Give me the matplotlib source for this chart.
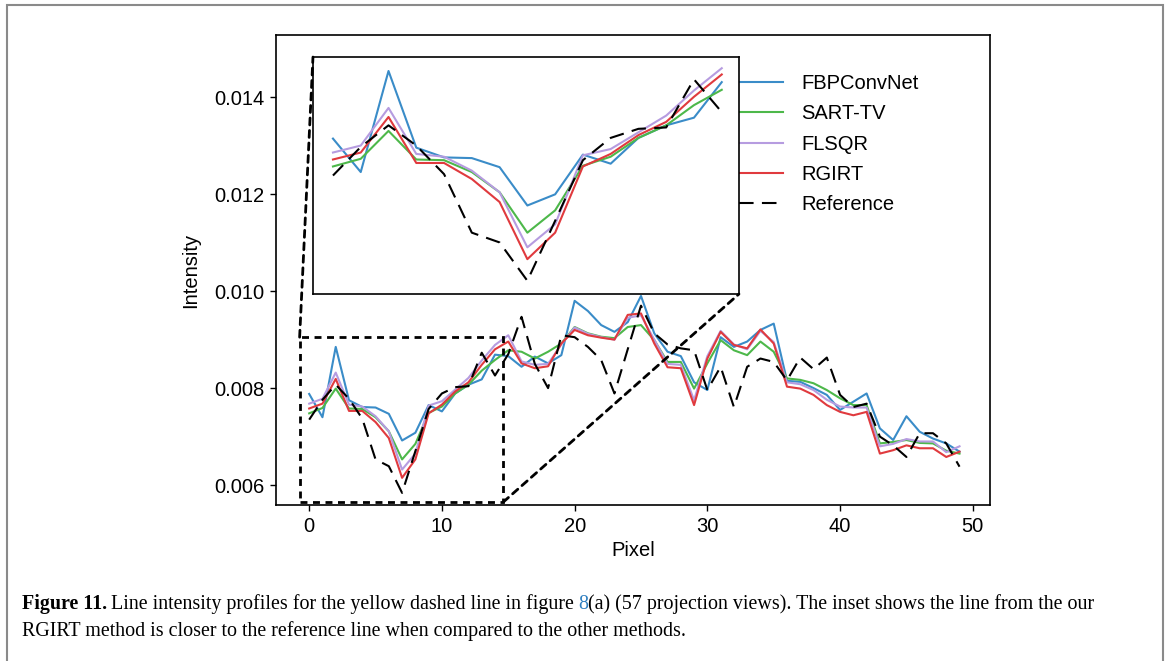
import matplotlib
matplotlib.use("Agg")
import matplotlib.pyplot as plt
from matplotlib.patches import Rectangle, ConnectionPatch
from matplotlib.transforms import IdentityTransform
import numpy as np

plt.rcParams['font.family'] = ['Liberation Sans', 'DejaVu Sans']

pixel = np.arange(50)

fbpconvnet = [0.00788, 0.00740, 0.00885, 0.00775, 0.00761, 0.00760, 0.00747, 0.00692, 0.00708, 0.00765,
              0.00752, 0.00789, 0.00807, 0.00818, 0.00869, 0.00866, 0.00844, 0.00865, 0.00851, 0.00868,
              0.00980, 0.00959, 0.00930, 0.00916, 0.00936, 0.00990, 0.00913, 0.00875, 0.00866, 0.00812,
              0.00796, 0.00905, 0.00885, 0.00896, 0.00920, 0.00933, 0.00815, 0.00813, 0.00800, 0.00786,
              0.00755, 0.00772, 0.00789, 0.00717, 0.00693, 0.00742, 0.00710, 0.00696, 0.00686, 0.00669]
sart_tv = [0.00748, 0.00759, 0.00799, 0.00758, 0.00757, 0.00740, 0.00711, 0.00653, 0.00685, 0.00749,
           0.00762, 0.00789, 0.00807, 0.00836, 0.00858, 0.00878, 0.00875, 0.00861, 0.00875, 0.00892,
           0.00926, 0.00913, 0.00906, 0.00903, 0.00926, 0.00930, 0.00899, 0.00854, 0.00854, 0.00799,
           0.00851, 0.00899, 0.00878, 0.00868, 0.00896, 0.00875, 0.00820, 0.00817, 0.00810, 0.00796,
           0.00779, 0.00765, 0.00765, 0.00686, 0.00689, 0.00693, 0.00687, 0.00686, 0.00671, 0.00665]
flsqr = [0.00768, 0.00778, 0.00832, 0.00766, 0.00762, 0.00742, 0.00711, 0.00632, 0.00665, 0.00764,
         0.00773, 0.00797, 0.00821, 0.00857, 0.00889, 0.00909, 0.00855, 0.00848, 0.00850, 0.00890,
         0.00925, 0.00912, 0.00905, 0.00900, 0.00945, 0.00950, 0.00900, 0.00850, 0.00848, 0.00775,
         0.00866, 0.00918, 0.00890, 0.00880, 0.00918, 0.00895, 0.00812, 0.00808, 0.00796, 0.00776,
         0.00762, 0.00760, 0.00760, 0.00680, 0.00685, 0.00695, 0.00690, 0.00690, 0.00668, 0.00680]
rgirt = [0.00758, 0.00768, 0.00819, 0.00753, 0.00753, 0.00730, 0.00697, 0.00615, 0.00653, 0.00748,
         0.00766, 0.00793, 0.00812, 0.00848, 0.00880, 0.00896, 0.00851, 0.00841, 0.00845, 0.00892,
         0.00920, 0.00909, 0.00904, 0.00900, 0.00951, 0.00954, 0.00892, 0.00843, 0.00841, 0.00765,
         0.00861, 0.00916, 0.00889, 0.00882, 0.00921, 0.00892, 0.00803, 0.00799, 0.00786, 0.00765,
         0.00751, 0.00744, 0.00751, 0.00665, 0.00672, 0.00682, 0.00676, 0.00676, 0.00658, 0.00669]
reference = [0.00735, 0.00776, 0.00807, 0.00778, 0.00737, 0.00653, 0.00639, 0.00584, 0.00670, 0.00757,
             0.00789, 0.00802, 0.00804, 0.00873, 0.00826, 0.00870, 0.00947, 0.00850, 0.00800, 0.00909,
             0.00905, 0.00885, 0.00858, 0.00789, 0.00880, 0.00970, 0.00913, 0.00890, 0.00882, 0.00878,
             0.00796, 0.00844, 0.00761, 0.00844, 0.00861, 0.00854, 0.00816, 0.00863, 0.00839, 0.00863,
             0.00786, 0.00761, 0.00768, 0.00700, 0.00682, 0.00658, 0.00707, 0.00707, 0.00686, 0.00638]

names = ['FBPConvNet', 'SART-TV', 'FLSQR', 'RGIRT']
colors = ['#3a8cc8', '#4db84a', '#b69ce0', '#e03a3e']
series = [fbpconvnet, sart_tv, flsqr, rgirt]

# zoom window shown in the inset
zx = (-0.72, 14.62)
zy = (0.00565, 0.00905)
n_zoom = 15

fig = plt.figure(figsize=(11.70, 6.61), dpi=100)
ax = fig.add_axes([0.2359, 0.2360, 0.6103, 0.7110])

for vals, c, n in zip(series, colors, names):
    ax.plot(pixel, vals, color=c, lw=1.5, label=n)
ax.plot(pixel, reference, color='k', lw=1.5, dashes=(7, 4), label='Reference')

ax.set_xlim(-2.5, 51.3)
ax.set_ylim(0.00559, 0.01528)
ax.set_xticks([0, 10, 20, 30, 40, 50])
ax.set_yticks([0.006, 0.008, 0.010, 0.012, 0.014])
ax.set_yticklabels(['0.006', '0.008', '0.010', '0.012', '0.014'])
ax.tick_params(direction='out', length=4.5, width=1, labelsize=14.5, pad=4)
for s in ax.spines.values():
    s.set_linewidth(1.2)
ax.set_xlabel('Pixel', fontsize=14.5, labelpad=4)
ax.set_ylabel('Intensity', fontsize=14.5, labelpad=10)

ax.legend(loc='upper left', bbox_to_anchor=(0.648, 0.917), frameon=False,
          fontsize=14.5, handlelength=2.2, handletextpad=0.9, labelspacing=0.56,
          borderpad=0, borderaxespad=0)

dash = (0, (2.5, 2))
ax.add_patch(Rectangle((zx[0], zy[0]), zx[1] - zx[0], zy[1] - zy[0], fill=False,
                       ec='k', lw=2, ls=dash, zorder=5, clip_on=False))

ins = fig.add_axes([0.2675, 0.5552, 0.3641, 0.3585])
ins.set_facecolor('white')
for vals, c in zip(series, colors):
    ins.plot(pixel[:n_zoom], vals[:n_zoom], color=c, lw=1.5)
ins.plot(pixel[:n_zoom], reference[:n_zoom], color='k', lw=1.5, dashes=(7, 4))
ins.set_xlim(*zx)
ins.set_ylim(*zy)
ins.set_xticks([])
ins.set_yticks([])
for s in ins.spines.values():
    s.set_linewidth(1.2)

for a, b in [((zx[0], zy[1]), (0, 1)), ((zx[1], zy[0]), (1, 0))]:
    con = ConnectionPatch(xyA=a, coordsA=ax.transData, xyB=b, coordsB=ins.transAxes,
                          color='k', lw=2, ls=dash, zorder=6)
    fig.add_artist(con)

# page frame around the figure, open at the bottom edge
fig.add_artist(Rectangle((7, -10), 1156, 666, transform=IdentityTransform(),
                         fill=False, ec='#8a8a8a', lw=1.5))

# caption, set piece by piece so the bold label and the link colour can change
fig.canvas.draw()
r = fig.canvas.get_renderer()
cap_font = ['Liberation Serif', 'DejaVu Serif']
cap_size = 14.4


def caption_line(pieces, x, y):
    for txt, weight, color, gap in pieces:
        t = fig.text(x, y, txt, transform=IdentityTransform(), fontsize=cap_size,
                     family=cap_font, fontweight=weight, color=color, va='baseline')
        x += t.get_window_extent(r).width + gap


caption_line([('Figure 11.', 'bold', 'k', 4),
              ('Line intensity profiles for the yellow dashed line in figure', 'normal', 'k', 4),
              ('8', 'normal', '#2f7fc0', 0),
              ('(a) (57 projection views). The inset shows the line from the our', 'normal', 'k', 0)],
             22, 661 - 609)
caption_line([('RGIRT method is closer to the reference line when compared to the other methods.',
               'normal', 'k', 0)], 22, 661 - 636)

fig.savefig('out.png', dpi=100)
